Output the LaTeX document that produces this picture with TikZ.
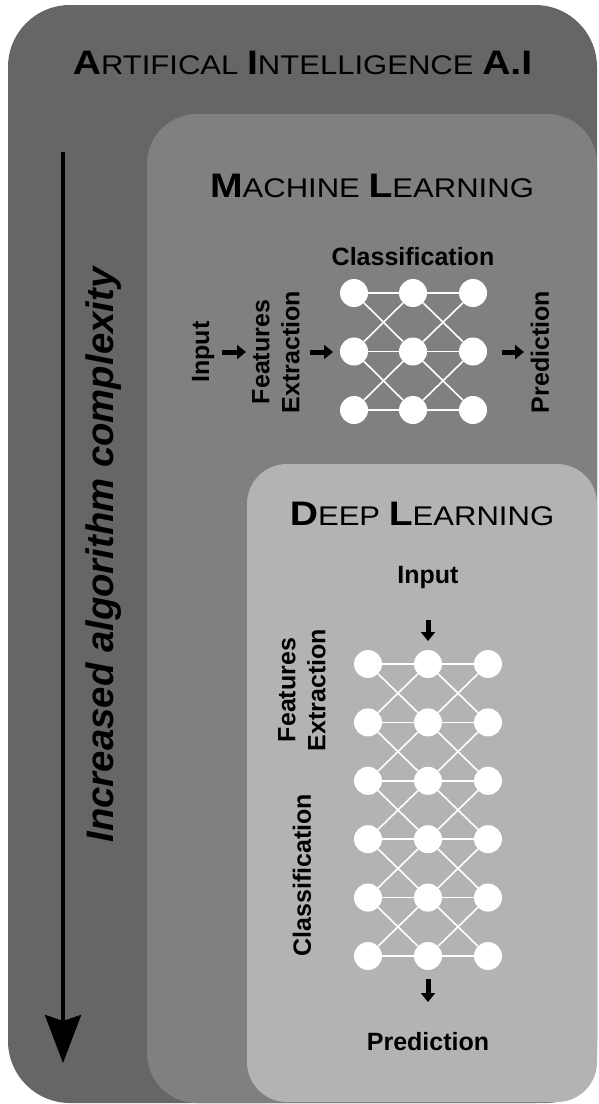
\documentclass[tikz,border=0pt]{standalone}
\usepackage{fontspec}
\setmainfont{Liberation Sans}
\newfontfamily\titlefont[FakeStretch=1.15]{Liberation Sans}
\usetikzlibrary{arrows.meta}

% small-caps style headings: large bold initials, smaller regular capitals
\newcommand{\hbig}[1]{{\fontsize{34}{40}\selectfont\bfseries #1}}
\newcommand{\hsml}[1]{{\fontsize{27}{32}\selectfont #1}}

\definecolor{aigray}{HTML}{666666}
\definecolor{mlgray}{HTML}{808080}
\definecolor{dlgray}{HTML}{B3B3B3}

\tikzset{
  heading/.style={anchor=base, inner sep=0pt, font=\titlefont\fontsize{27}{32}\selectfont},
  neuron/.style={circle, fill=white, draw=none, minimum size=28pt, inner sep=0pt},
  link/.style={white, line width=1.6pt},
  lbl/.style={font=\fontsize{25}{30}\selectfont\bfseries, align=center, inner sep=0pt},
  blk/.style={line width=5pt, -{Triangle[length=9pt,width=14pt]}},
  bigarrow/.style={line width=4pt, -{Stealth[length=48pt,width=36pt,inset=6pt]}}
}

\begin{document}
\begin{tikzpicture}[x=1pt, y=-1pt]
\fill[white] (0,0) rectangle (598,1104);
\useasboundingbox (0,0) rectangle (598,1104);

% nested domains
\fill[aigray, rounded corners=62pt] (8,5) rectangle (597,1103);
\fill[mlgray, rounded corners=50pt] (147,114) rectangle (597,1103);
\fill[dlgray, rounded corners=40pt] (247,464) rectangle (597,1102);

% headings
\node[heading] (ai) at (302.5,74) {\hbig{A}\hsml{RTIFICAL} \hbig{I}\hsml{NTELLIGENCE} \hbig{A.I}};
\node[heading] (ml) at (372,197) {\hbig{M}\hsml{ACHINE} \hbig{L}\hsml{EARNING}};
\node[heading] (dl) at (422,525) {\hbig{D}\hsml{EEP} \hbig{L}\hsml{EARNING}};

% complexity axis
\coordinate (axtop) at (63,152);
\coordinate (axbot) at (63,1063);
\draw[bigarrow] (axtop) -- (axbot);
\node[rotate=90, anchor=base, inner sep=0pt,
      font=\bfseries\itshape\fontsize{38.3}{44}\selectfont] (cx) at (113,555)
      {Increased algorithm complexity};

% machine learning: shallow network
\foreach \r in {1,2,3}
  \foreach \c/\x in {1/354,2/413,3/473}
    \node[neuron] (ml-\r-\c) at (\x,{293+(\r-1)*58.5}) {};
\foreach \r in {1,2,3}{
  \draw[link] (ml-\r-1) -- (ml-\r-2);
  \draw[link] (ml-\r-2) -- (ml-\r-3);
}
\foreach \r/\s in {1/2,2/3}{
  \draw[link] (ml-\r-1) -- (ml-\s-2);
  \draw[link] (ml-\s-1) -- (ml-\r-2);
  \draw[link] (ml-\r-2) -- (ml-\s-3);
  \draw[link] (ml-\s-2) -- (ml-\r-3);
}
\node[lbl] (mlcls) at (413,257) {Classification};
\node[lbl, rotate=90] (mlin) at (203,352) {Input};
\node[lbl, rotate=90] (mlfe) at (276,352) {Features\\Extraction};
\node[lbl, rotate=90] (mlpr) at (540,352) {Prediction};
\coordinate (mla1) at (222,352); \coordinate (mlb1) at (246,352);
\coordinate (mla2) at (310,352); \coordinate (mlb2) at (333,352);
\coordinate (mla3) at (502,352); \coordinate (mlb3) at (524,352);
\draw[blk] (mla1) -- (mlb1);
\draw[blk] (mla2) -- (mlb2);
\draw[blk] (mla3) -- (mlb3);

% deep learning: deeper network
\foreach \r in {1,...,6}
  \foreach \c/\x in {1/368,2/428,3/488}
    \node[neuron] (dl-\r-\c) at (\x,{664+(\r-1)*58.4}) {};
\foreach \r in {1,...,6}{
  \draw[link] (dl-\r-1) -- (dl-\r-2);
  \draw[link] (dl-\r-2) -- (dl-\r-3);
}
\foreach \r/\s in {1/2,2/3,3/4,4/5,5/6}{
  \draw[link] (dl-\r-1) -- (dl-\s-2);
  \draw[link] (dl-\s-1) -- (dl-\r-2);
  \draw[link] (dl-\r-2) -- (dl-\s-3);
  \draw[link] (dl-\s-2) -- (dl-\r-3);
}
\node[lbl] (dlin) at (428,577) {Input};
\node[lbl] (dlpr) at (428,1042) {Prediction};
\node[lbl, rotate=90] (dlfe) at (302,690) {Features\\Extraction};
\node[lbl, rotate=90] (dlcls) at (302,875) {Classification};
\coordinate (dla1) at (428,620); \coordinate (dlb1) at (428,641);
\coordinate (dla2) at (428,979); \coordinate (dlb2) at (428,1002);
\draw[blk] (dla1) -- (dlb1);
\draw[blk] (dla2) -- (dlb2);
\end{tikzpicture}
\end{document}
